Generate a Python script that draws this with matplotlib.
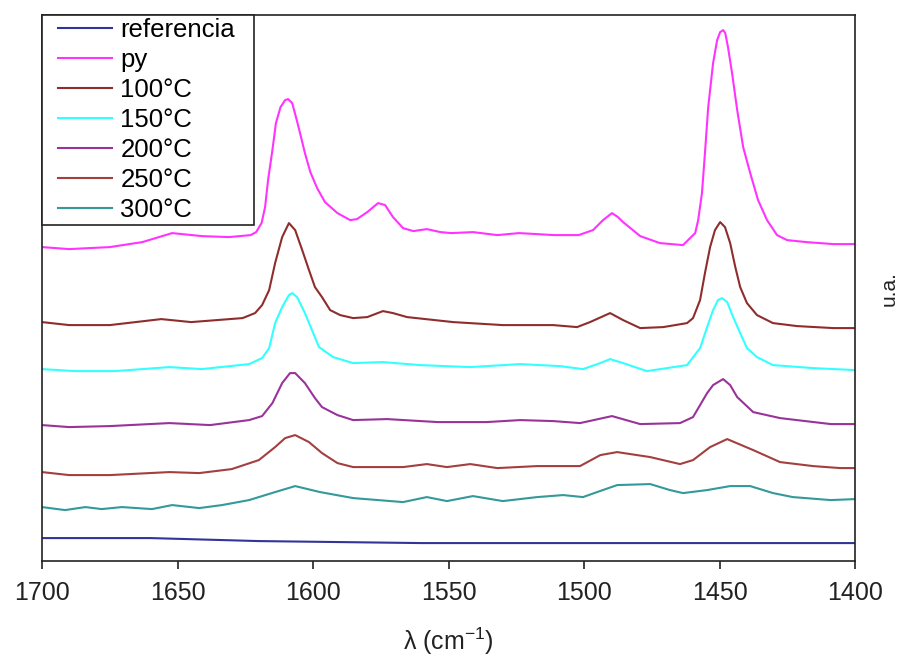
import matplotlib
matplotlib.use("Agg")
import matplotlib.pyplot as plt
from matplotlib.lines import Line2D
from matplotlib.legend_handler import HandlerLine2D

plt.rcParams['font.family'] = ['Liberation Sans', 'DejaVu Sans']

# wavenumbers (cm-1) and intensities (u.a.)
ref_wn = [1700, 1660, 1620, 1560, 1503, 1400]
ref_y = [0.23, 0.23, 0.20, 0.18, 0.18, 0.18]

py_wn = [1700, 1690, 1675, 1663, 1652, 1641, 1631, 1623, 1621, 1619, 1617.7, 1616.6,
         1615, 1613.7, 1612, 1610.3, 1609.2, 1607.7, 1606.3, 1604.8, 1603, 1601,
         1598.5, 1595.6, 1591, 1586.3, 1583.8, 1580, 1576, 1573.4, 1570.5, 1566.8,
         1563, 1558, 1553, 1549, 1541, 1532, 1524, 1511, 1502, 1496.7, 1493,
         1489.7, 1487.5, 1485.6, 1479.3, 1472, 1463.5, 1459, 1457.9, 1456.5, 1455.4,
         1454.2, 1452.4, 1450.9, 1449.8, 1448.7, 1447.9, 1446.9, 1445.4, 1443.5,
         1441.3, 1438.7, 1435.8, 1432.5, 1428.8, 1425.1, 1418, 1408, 1400]
py_y = [3.14, 3.12, 3.14, 3.19, 3.28, 3.25, 3.24, 3.26, 3.29, 3.38, 3.54, 3.81,
        4.11, 4.38, 4.54, 4.61, 4.62, 4.58, 4.44, 4.28, 4.08, 3.89,
        3.73, 3.59, 3.48, 3.41, 3.42, 3.49, 3.58, 3.56, 3.44, 3.33,
        3.30, 3.32, 3.29, 3.28, 3.29, 3.26, 3.28, 3.26, 3.26, 3.31, 3.41,
        3.48, 3.44, 3.39, 3.25, 3.18, 3.16, 3.28, 3.41, 3.68, 4.08,
        4.54, 4.98, 5.21, 5.29, 5.31, 5.28, 5.14, 4.88, 4.51,
        4.14, 3.88, 3.61, 3.41, 3.26, 3.21, 3.19, 3.17, 3.17]

t100_wn = [1700, 1690, 1675, 1656, 1645, 1626, 1621.4, 1618.8, 1616.2, 1614, 1611.4,
           1608.9, 1606.6, 1604, 1601.5, 1599.3, 1596.7, 1593.7, 1590, 1585.2, 1580,
           1574.2, 1570.5, 1565.3, 1548.3, 1530, 1511.4, 1502.6, 1497.8, 1490.4,
           1485.6, 1479.3, 1470.8, 1462, 1459.8, 1457.2, 1455.4, 1453.5, 1451.7,
           1449.8, 1448, 1446.1, 1444.2, 1442.4, 1439.9, 1436.2, 1430.3, 1421.4,
           1408, 1400]
t100_y = [2.39, 2.36, 2.36, 2.42, 2.39, 2.43, 2.48, 2.56, 2.71, 2.98, 3.24,
          3.38, 3.31, 3.11, 2.91, 2.74, 2.64, 2.51, 2.46, 2.43, 2.44,
          2.50, 2.48, 2.44, 2.39, 2.36, 2.36, 2.34, 2.39, 2.48,
          2.41, 2.33, 2.34, 2.38, 2.43, 2.61, 2.88, 3.14, 3.31,
          3.39, 3.34, 3.18, 2.94, 2.74, 2.58, 2.46, 2.38, 2.35,
          2.33, 2.33]

t150_wn = [1700, 1688, 1673, 1653, 1641, 1623.6, 1618.8, 1616.2, 1614, 1611.4, 1608.9,
           1607.7, 1605.9, 1603, 1600.4, 1597.8, 1592.6, 1585.2, 1574.2, 1560.5, 1542,
           1523.6, 1509, 1500.4, 1494, 1490.4, 1485.6, 1476.8, 1462, 1457.2, 1454.6,
           1452.4, 1450.6, 1449.1, 1447.2, 1445, 1442.4, 1439.9, 1436.2, 1430.3,
           1415.5, 1400]
t150_y = [1.92, 1.90, 1.90, 1.94, 1.92, 1.97, 2.03, 2.13, 2.38, 2.54, 2.66,
          2.68, 2.64, 2.48, 2.31, 2.14, 2.04, 1.98, 1.99, 1.96, 1.94,
          1.97, 1.95, 1.92, 1.98, 2.02, 1.98, 1.90, 1.96, 2.13, 2.34,
          2.51, 2.61, 2.63, 2.59, 2.44, 2.28, 2.13, 2.04, 1.96,
          1.93, 1.91]

t200_wn = [1700, 1690, 1675, 1653, 1638, 1623.6, 1618.8, 1615, 1611.4, 1608.5, 1606.6,
           1603, 1599.3, 1596.7, 1591, 1585.2, 1572.7, 1554, 1536, 1523.6, 1511.4,
           1501.5, 1489.7, 1479.3, 1464.6, 1459.8, 1454.6, 1452.4, 1448.7, 1446.1,
           1443.5, 1437.6, 1427.7, 1409, 1400]
t200_y = [1.36, 1.34, 1.35, 1.38, 1.36, 1.41, 1.45, 1.58, 1.78, 1.88, 1.88,
          1.78, 1.63, 1.54, 1.46, 1.41, 1.42, 1.39, 1.39, 1.41, 1.40,
          1.38, 1.45, 1.37, 1.38, 1.44, 1.68, 1.76, 1.82, 1.76,
          1.64, 1.49, 1.43, 1.37, 1.37]

t250_wn = [1700, 1690, 1675, 1653, 1642, 1630, 1620, 1614, 1610.3, 1606.6, 1601.5,
           1596.7, 1591, 1585.2, 1566.8, 1558, 1550.6, 1542, 1532, 1517.3, 1509,
           1501.5, 1494, 1487.8, 1475.6, 1464.6, 1459.8, 1453.5, 1447.2, 1437.6,
           1427.7, 1415.5, 1405.5, 1400]
t250_y = [0.89, 0.86, 0.86, 0.89, 0.88, 0.92, 1.01, 1.14, 1.23, 1.26, 1.19,
          1.08, 0.98, 0.94, 0.94, 0.97, 0.94, 0.97, 0.93, 0.95, 0.95,
          0.95, 1.06, 1.09, 1.04, 0.97, 1.01, 1.14, 1.22, 1.11,
          0.99, 0.95, 0.93, 0.93]

t300_wn = [1700, 1691.5, 1684, 1678, 1670.5, 1659.4, 1652, 1642, 1633.6, 1623.6, 1614,
           1606.6, 1597.4, 1585.2, 1566.8, 1558, 1550.6, 1541, 1530, 1517.3, 1507.7,
           1500.4, 1495.2, 1487.8, 1475.6, 1468.3, 1463.5, 1454.6, 1446.1, 1438.7,
           1430.3, 1423, 1409, 1400]
t300_y = [0.54, 0.51, 0.54, 0.52, 0.54, 0.52, 0.56, 0.53, 0.56, 0.61, 0.69,
          0.75, 0.69, 0.63, 0.59, 0.64, 0.60, 0.65, 0.60, 0.64, 0.66,
          0.64, 0.69, 0.76, 0.77, 0.71, 0.68, 0.71, 0.75, 0.75,
          0.68, 0.64, 0.61, 0.62]

labels = ['referencia', 'py', '100°C', '150°C', '200°C', '250°C', '300°C']
colors = ['#333399', '#ff33ff', '#8f2d2d', '#33ffff', '#993399', '#a33f3f', '#339999']
series = [(ref_wn, ref_y), (py_wn, py_y), (t100_wn, t100_y), (t150_wn, t150_y),
          (t200_wn, t200_y), (t250_wn, t250_y), (t300_wn, t300_y)]

fig = plt.figure(figsize=(9.02, 6.57), dpi=100)
ax = fig.add_axes([0.0466, 0.146, 0.9014, 0.831])

for (wn, y), lab, c in zip(series, labels, colors):
    ax.plot(wn, y, color=c, linewidth=1.5, label=lab)

ax.set_xlim(1700, 1400)
ax.set_ylim(0, 5.46)
ax.set_xticks([1700, 1650, 1600, 1550, 1500, 1450, 1400])
ax.tick_params(axis='x', labelsize=18, length=6, width=1.2, pad=8, colors='#222222')
ax.set_yticks([])
for s in ax.spines.values():
    s.set_linewidth(1.2)
    s.set_color('#222222')

ax.set_xlabel('λ (cm$^{\\mathregular{-1}}$)', fontsize=18, labelpad=15, color='#222222')
ax.yaxis.set_label_position('right')
ax.set_ylabel('u.a.', fontsize=15, labelpad=18, color='#222222')

# legend box fixed to the width seen in the original, line starts inside the box
leg = ax.legend(loc='upper left', bbox_to_anchor=(0, 1, 0.2608, 0), mode='expand',
                borderaxespad=0, fontsize=18.5, handlelength=2.62, handletextpad=0.31,
                labelspacing=0.23, borderpad=0.12, fancybox=False, framealpha=1,
                handler_map={Line2D: HandlerLine2D(xpad=0.52)})
leg.get_frame().set_edgecolor('#222222')
leg.get_frame().set_linewidth(1.2)

plt.savefig("out.png", dpi=100)
